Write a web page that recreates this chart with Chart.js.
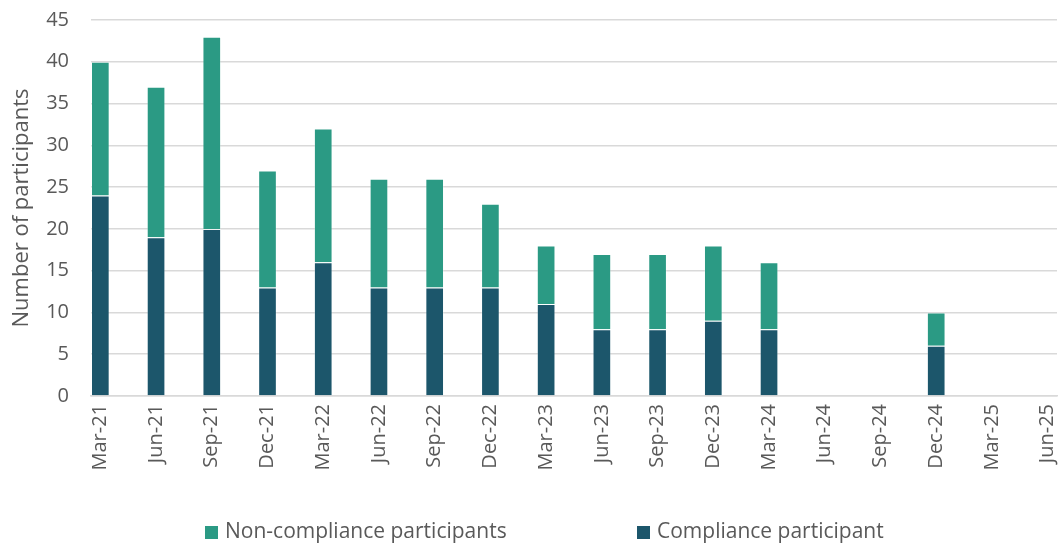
<!DOCTYPE html>
<html lang="en">
<head>
  <meta charset="UTF-8">
  <title>Participants by quarter</title>
  <script src="https://cdn.jsdelivr.net/npm/chart.js"></script>
  <style>
    body {
      margin: 0;
      background: #fff;
      font-family: 'Open Sans', 'Noto Sans', sans-serif;
    }
    .wrap {
      position: relative;
      width: 1062px;
      height: 546px;
    }
    .legend {
      position: absolute;
      top: 516px;
      left: 0;
      width: 1062px;
      height: 28px;
      font-size: 21px;
      color: #595959;
    }
    .legend-item {
      position: absolute;
      top: 0;
      line-height: 28px;
      white-space: nowrap;
    }
    .legend-item span {
      display: inline-block;
      width: 13px;
      height: 13px;
      margin-right: 7px;
      vertical-align: -1px;
    }
  </style>
</head>
<body>

<div class="wrap">
  <canvas id="chart" width="1062" height="546"></canvas>
  <div class="legend">
    <div class="legend-item" style="left: 205px;"><span style="background:#2b9a84"></span>Non-compliance participants</div>
    <div class="legend-item" style="left: 637px;"><span style="background:#1c566b"></span>Compliance participant</div>
  </div>
</div>

<script>
  // Data
  const quarters = ['Mar-21', 'Jun-21', 'Sep-21', 'Dec-21', 'Mar-22', 'Jun-22', 'Sep-22', 'Dec-22',
    'Mar-23', 'Jun-23', 'Sep-23', 'Dec-23', 'Mar-24', 'Jun-24', 'Sep-24', 'Dec-24', 'Mar-25', 'Jun-25'];
  const compliance = [24, 19, 20, 13, 16, 13, 13, 13, 11, 8, 8, 9, 8, 0, 0, 6, 0, 0];
  const nonCompliance = [16, 18, 23, 14, 16, 13, 13, 10, 7, 9, 9, 9, 8, 0, 0, 4, 0, 0];
  const yTicks = [0, 5, 10, 15, 20, 25, 30, 35, 40, 45];

  const barFrac = 0.335; // bar width as share of one quarter
  const toPoints = arr => arr.map((v, i) => ({ x: i, y: v }));

  Chart.defaults.font.family = "'Open Sans', 'Noto Sans', sans-serif";
  Chart.defaults.color = '#595959';

  new Chart(document.getElementById('chart'), {
    type: 'bar',
    data: {
      datasets: [
        {
          label: 'Compliance participant',
          data: toPoints(compliance),
          backgroundColor: '#1c566b',
          borderColor: 'rgba(255,255,255,0.25)',
          borderWidth: 1,
          barPercentage: barFrac,
          categoryPercentage: 1
        },
        {
          label: 'Non-compliance participants',
          data: toPoints(nonCompliance),
          backgroundColor: '#2b9a84',
          borderColor: 'rgba(255,255,255,0.25)',
          borderWidth: 1,
          barPercentage: barFrac,
          categoryPercentage: 1
        }
      ]
    },
    options: {
      responsive: false,
      animation: false,
      layout: { padding: { left: 0, right: 5, top: 20, bottom: 0 } },
      plugins: {
        tooltip: { enabled: false },
        legend: { display: false }
      },
      scales: {
        x: {
          type: 'linear',
          stacked: true,
          offset: false,
          min: -barFrac / 2,
          max: quarters.length - 1 + barFrac / 2,
          afterBuildTicks: axis => {
            axis.ticks = quarters.map((q, i) => ({ value: i }));
          },
          afterFit: axis => {
            axis.height = 150;
            axis.paddingLeft = 0;
            axis.paddingRight = 0;
          },
          grid: { display: false, drawTicks: false },
          border: { color: '#d9d9d9', width: 1.5 },
          ticks: {
            minRotation: 90,
            maxRotation: 90,
            autoSkip: false,
            padding: 8,
            font: { size: 20 },
            color: '#595959',
            callback: value => quarters[value]
          }
        },
        y: {
          stacked: true,
          min: 0,
          max: 45,
          afterBuildTicks: axis => {
            axis.ticks = yTicks.map(v => ({ value: v }));
          },
          afterFit: axis => {
            axis.width = 91;
            axis.paddingTop = 0;
            axis.paddingBottom = 0;
          },
          grid: { color: '#d9d9d9', lineWidth: 1.5, drawTicks: false },
          border: { display: false },
          ticks: {
            padding: 22,
            font: { size: 20 },
            color: '#595959'
          },
          title: {
            display: true,
            text: 'Number of participants',
            font: { size: 22 },
            color: '#595959',
            padding: { top: 9, bottom: 0 }
          }
        }
      }
    }
  });
</script>

</body>
</html>
